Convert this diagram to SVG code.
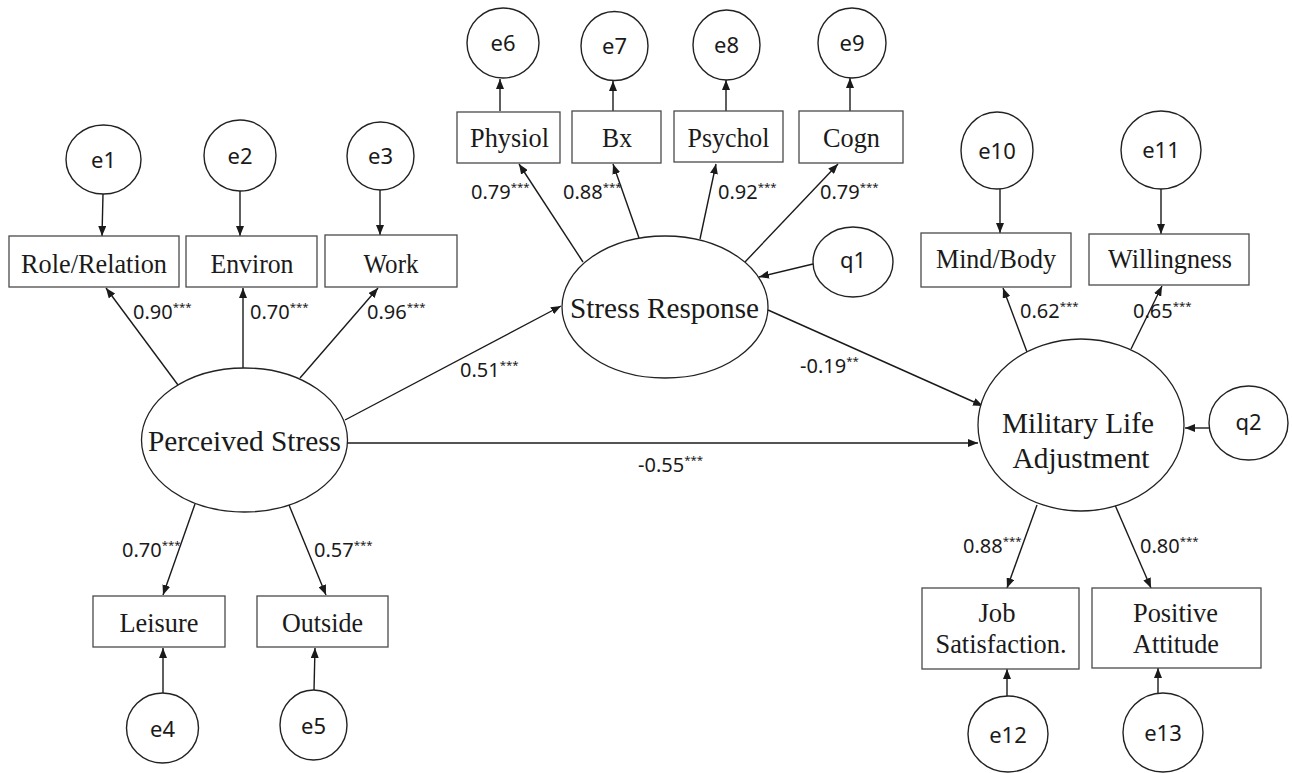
<svg xmlns="http://www.w3.org/2000/svg" width="1292" height="773" viewBox="0 0 1292 773">
<style>
.bg{fill:#ffffff}
.box{fill:#ffffff;stroke:#4a4a4a;stroke-width:1.3}
.lat{fill:#ffffff;stroke:#222222;stroke-width:1.3}
.err{fill:#ffffff;stroke:#222222;stroke-width:1.4}
.con line{stroke:#1a1a1a;stroke-width:1.4;marker-end:url(#ah)}
.nt{font-family:"Liberation Serif","Times New Roman",serif;font-size:27px;fill:#1a1a1a;text-anchor:middle}
.lt{font-family:"Liberation Serif","Times New Roman",serif;font-size:30px;fill:#1a1a1a;text-anchor:middle}
.et{font-family:"Noto Sans","Open Sans",sans-serif;font-size:22px;fill:#1a1a1a;text-anchor:middle}
.lab{font-family:"Noto Sans","Open Sans",sans-serif;font-size:20px;fill:#1a1a1a}
.sup{font-size:11.5px}
</style>
<defs>
<marker id="ah" viewBox="0 0 10 8" refX="10" refY="4" markerWidth="10" markerHeight="8" markerUnits="userSpaceOnUse" orient="auto">
<path d="M0,0 L10,4 L0,8 z" fill="#1a1a1a"/>
</marker>
</defs>
<rect class="bg" x="0" y="0" width="1292" height="773"/>

<g id="connectors" class="con">
<line x1="103" y1="194" x2="102" y2="236"/>
<line x1="240" y1="191" x2="240" y2="236"/>
<line x1="380" y1="190" x2="380" y2="235"/>
<line x1="178" y1="385" x2="106" y2="288"/>
<line x1="243" y1="368" x2="243" y2="288"/>
<line x1="300" y1="378" x2="378" y2="288"/>
<line x1="195" y1="504" x2="163" y2="595"/>
<line x1="289" y1="505" x2="326" y2="595"/>
<line x1="163" y1="693" x2="163" y2="648"/>
<line x1="314" y1="690" x2="315" y2="648"/>
<line x1="345" y1="420" x2="561" y2="306"/>
<line x1="347" y1="443" x2="978" y2="443"/>
<line x1="768" y1="310" x2="983" y2="406"/>
<line x1="583" y1="262" x2="519" y2="164"/>
<line x1="639" y1="238" x2="613" y2="164"/>
<line x1="700" y1="239" x2="716" y2="164"/>
<line x1="745" y1="262" x2="838" y2="164"/>
<line x1="500" y1="111" x2="500" y2="79"/>
<line x1="613" y1="111" x2="613" y2="81"/>
<line x1="726" y1="111" x2="726" y2="80"/>
<line x1="850" y1="111" x2="850" y2="78"/>
<line x1="813" y1="264" x2="759" y2="277"/>
<line x1="1027" y1="352" x2="1003" y2="288"/>
<line x1="1131" y1="349" x2="1162" y2="286"/>
<line x1="1000" y1="189" x2="1000" y2="233"/>
<line x1="1161" y1="189" x2="1161" y2="234"/>
<line x1="1209" y1="428" x2="1185" y2="428"/>
<line x1="1037" y1="505" x2="1007" y2="588"/>
<line x1="1115" y1="505" x2="1151" y2="588"/>
<line x1="1007" y1="696" x2="1007" y2="669"/>
<line x1="1158" y1="693" x2="1158" y2="668"/>
</g>

<g id="perceived-stress"><ellipse class="lat" cx="244.5" cy="440" rx="103" ry="72"/><text class="lt" x="244.5" y="451" textLength="193" lengthAdjust="spacingAndGlyphs">Perceived Stress</text></g>
<g id="stress-response"><ellipse class="lat" cx="665" cy="307" rx="103" ry="71"/><text class="lt" x="664.5" y="318" textLength="189" lengthAdjust="spacingAndGlyphs">Stress Response</text></g>
<g id="military-life-adjustment"><ellipse class="lat" cx="1081" cy="425" rx="103" ry="86"/><text class="lt" x="1078" y="433" textLength="152" lengthAdjust="spacingAndGlyphs">Military Life</text><text class="lt" x="1081" y="468" textLength="137" lengthAdjust="spacingAndGlyphs">Adjustment</text></g>

<g id="role-relation"><rect class="box" x="9" y="236" width="170" height="51"/><text class="nt" x="94" y="273" textLength="146" lengthAdjust="spacingAndGlyphs">Role/Relation</text></g>
<g id="environ"><rect class="box" x="186" y="236" width="131" height="51"/><text class="nt" x="252" y="273" textLength="83" lengthAdjust="spacingAndGlyphs">Environ</text></g>
<g id="work"><rect class="box" x="325" y="235" width="132" height="52"/><text class="nt" x="391" y="273" textLength="55" lengthAdjust="spacingAndGlyphs">Work</text></g>
<g id="physiol"><rect class="box" x="457" y="112" width="103" height="51"/><text class="nt" x="509.5" y="147" textLength="79" lengthAdjust="spacingAndGlyphs">Physiol</text></g>
<g id="bx"><rect class="box" x="572" y="111" width="89" height="52"/><text class="nt" x="617" y="147" textLength="30" lengthAdjust="spacingAndGlyphs">Bx</text></g>
<g id="psychol"><rect class="box" x="674" y="111" width="109" height="51"/><text class="nt" x="728.5" y="147" textLength="82" lengthAdjust="spacingAndGlyphs">Psychol</text></g>
<g id="cogn"><rect class="box" x="799" y="111" width="104" height="52"/><text class="nt" x="851.5" y="147" textLength="57" lengthAdjust="spacingAndGlyphs">Cogn</text></g>
<g id="mind-body"><rect class="box" x="921" y="233" width="150" height="54"/><text class="nt" x="996" y="268" textLength="120" lengthAdjust="spacingAndGlyphs">Mind/Body</text></g>
<g id="willingness"><rect class="box" x="1089" y="234" width="160" height="51"/><text class="nt" x="1170" y="268" textLength="124" lengthAdjust="spacingAndGlyphs">Willingness</text></g>
<g id="leisure"><rect class="box" x="93" y="596" width="132" height="51"/><text class="nt" x="159" y="632" textLength="79" lengthAdjust="spacingAndGlyphs">Leisure</text></g>
<g id="outside"><rect class="box" x="257" y="596" width="131" height="51"/><text class="nt" x="322.5" y="632" textLength="81" lengthAdjust="spacingAndGlyphs">Outside</text></g>
<g id="job-satisfaction"><rect class="box" x="922" y="588" width="157" height="81"/><text class="nt" x="997" y="622" textLength="37" lengthAdjust="spacingAndGlyphs">Job</text><text class="nt" x="1001" y="653" textLength="131" lengthAdjust="spacingAndGlyphs">Satisfaction.</text></g>
<g id="positive-attitude"><rect class="box" x="1092" y="588" width="169" height="80"/><text class="nt" x="1175.5" y="622" textLength="85" lengthAdjust="spacingAndGlyphs">Positive</text><text class="nt" x="1176" y="653" textLength="86" lengthAdjust="spacingAndGlyphs">Attitude</text></g>

<g id="e1"><ellipse class="err" cx="103.5" cy="159.5" rx="37.5" ry="34.5"/><text class="et" x="103.5" y="167.5">e1</text></g>
<g id="e2"><ellipse class="err" cx="240" cy="155.5" rx="36" ry="35.5"/><text class="et" x="240" y="163.5">e2</text></g>
<g id="e3"><ellipse class="err" cx="380.5" cy="156" rx="33.5" ry="34"/><text class="et" x="380.5" y="163.5">e3</text></g>
<g id="e4"><ellipse class="err" cx="162.5" cy="728" rx="36" ry="35"/><text class="et" x="162.5" y="736.5">e4</text></g>
<g id="e5"><ellipse class="err" cx="313.5" cy="725" rx="33.5" ry="35"/><text class="et" x="313.5" y="733.5">e5</text></g>
<g id="e6"><ellipse class="err" cx="503" cy="43" rx="36" ry="35"/><text class="et" x="503" y="50.5">e6</text></g>
<g id="e7"><ellipse class="err" cx="614.5" cy="46" rx="33.5" ry="34.5"/><text class="et" x="614.5" y="53.5">e7</text></g>
<g id="e8"><ellipse class="err" cx="726.5" cy="45" rx="33.5" ry="35"/><text class="et" x="726.5" y="52.5">e8</text></g>
<g id="e9"><ellipse class="err" cx="852" cy="43" rx="34" ry="35"/><text class="et" x="852" y="50.5">e9</text></g>
<g id="e10"><ellipse class="err" cx="997" cy="150.5" rx="36" ry="38.5"/><text class="et" x="997" y="159">e10</text></g>
<g id="e11"><ellipse class="err" cx="1161" cy="150" rx="40" ry="39"/><text class="et" x="1161" y="157.5">e11</text></g>
<g id="e12"><ellipse class="err" cx="1008" cy="734" rx="40" ry="38"/><text class="et" x="1008" y="742.5">e12</text></g>
<g id="e13"><ellipse class="err" cx="1163" cy="732.5" rx="40" ry="39.5"/><text class="et" x="1163" y="741">e13</text></g>
<g id="q1"><ellipse class="err" cx="853" cy="262" rx="40" ry="35"/><text class="et" x="853" y="268">q1</text></g>
<g id="q2"><ellipse class="err" cx="1248.5" cy="423" rx="39.5" ry="37"/><text class="et" x="1248.5" y="430">q2</text></g>

<g id="labels">
<text class="lab" x="133" y="319">0.90<tspan class="sup" dy="-8">***</tspan></text>
<text class="lab" x="250" y="319">0.70<tspan class="sup" dy="-8">***</tspan></text>
<text class="lab" x="367" y="319">0.96<tspan class="sup" dy="-8">***</tspan></text>
<text class="lab" x="460" y="377">0.51<tspan class="sup" dy="-8">***</tspan></text>
<text class="lab" x="800" y="373">-0.19<tspan class="sup" dy="-8">**</tspan></text>
<text class="lab" x="638" y="472">-0.55<tspan class="sup" dy="-8">***</tspan></text>
<text class="lab" x="122" y="557">0.70<tspan class="sup" dy="-8">***</tspan></text>
<text class="lab" x="314" y="557">0.57<tspan class="sup" dy="-8">***</tspan></text>
<text class="lab" x="471" y="199">0.79<tspan class="sup" dy="-8">***</tspan></text>
<text class="lab" x="563" y="199">0.88<tspan class="sup" dy="-8">***</tspan></text>
<text class="lab" x="718" y="199">0.92<tspan class="sup" dy="-8">***</tspan></text>
<text class="lab" x="820" y="199">0.79<tspan class="sup" dy="-8">***</tspan></text>
<text class="lab" x="1020" y="318">0.62<tspan class="sup" dy="-8">***</tspan></text>
<text class="lab" x="1133" y="318">0.65<tspan class="sup" dy="-8">***</tspan></text>
<text class="lab" x="963" y="553">0.88<tspan class="sup" dy="-8">***</tspan></text>
<text class="lab" x="1140" y="553">0.80<tspan class="sup" dy="-8">***</tspan></text>
</g>
</svg>
